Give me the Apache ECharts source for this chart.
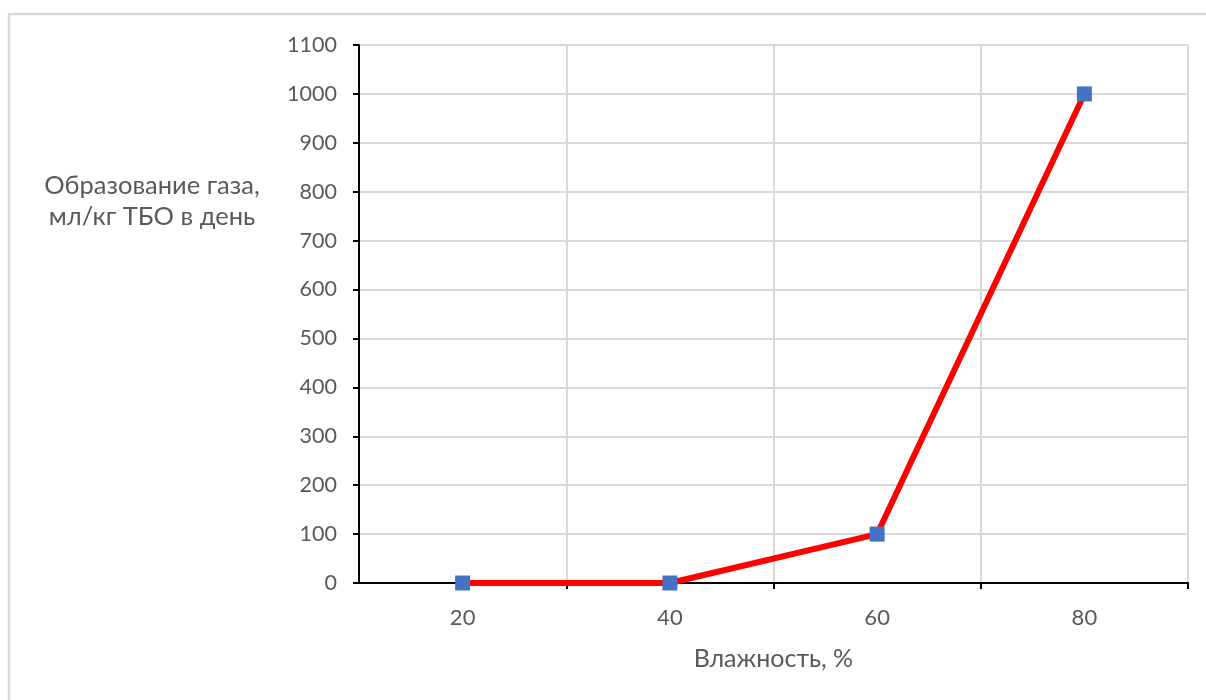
<!DOCTYPE html>
<html>
<head>
<meta charset="utf-8">
<style>
  html, body { margin: 0; padding: 0; background: #ffffff; }
  #chart { width: 1206px; height: 700px; }
</style>
<script src="https://cdn.jsdelivr.net/npm/echarts@6/dist/echarts.min.js"></script>
</head>
<body>
<div id="chart"></div>
<script>
// Moisture levels (%) and daily gas formation (ml per kg of MSW)
const humidity = ['20', '40', '60', '80'];
const gasFormation = [0, 0, 100, 1000];
const yTicks = { min: 0, max: 1100, step: 100 };

const textColor = '#595959';
const fontFamily = 'Lato, "Open Sans", sans-serif';

const chart = echarts.init(document.getElementById('chart'), null, { renderer: 'canvas' });

chart.setOption({
  backgroundColor: '#ffffff',
  animation: false,
  graphic: [{
    type: 'rect',
    shape: { x: 9, y: 14, width: 1220, height: 720 },
    style: { fill: 'none', stroke: '#d9d9d9', lineWidth: 2.5 },
    silent: true,
    z: -10
  }],
  title: {
    text: 'Образование газа,\nмл/кг ТБО в день',
    left: 147,
    top: 165,
    textAlign: 'center',
    textStyle: {
      color: textColor,
      fontFamily: fontFamily,
      fontSize: 25.5,
      fontWeight: 'normal',
      lineHeight: 31
    }
  },
  grid: {
    left: 359,
    right: 18,
    top: 45,
    bottom: 117,
    containLabel: false
  },
  xAxis: {
    type: 'category',
    data: humidity,
    boundaryGap: true,
    name: 'Влажность, %',
    nameLocation: 'middle',
    nameGap: 63,
    nameTextStyle: { color: textColor, fontFamily: fontFamily, fontSize: 25 },
    axisLine: { show: true, lineStyle: { color: '#000000', width: 2 } },
    axisTick: {
      show: true,
      length: 6,
      interval: function (index) { return index !== 0; },
      lineStyle: { color: '#000000', width: 2 }
    },
    axisLabel: { color: textColor, fontFamily: fontFamily, fontSize: 22, margin: 24 },
    splitLine: { show: true, lineStyle: { color: '#d9d9d9', width: 2 } }
  },
  yAxis: {
    type: 'value',
    min: yTicks.min,
    max: yTicks.max,
    interval: yTicks.step,
    axisLine: { show: true, lineStyle: { color: '#000000', width: 2 } },
    axisTick: { show: true, length: 6, lineStyle: { color: '#000000', width: 2 } },
    axisLabel: {
      color: textColor,
      fontFamily: fontFamily,
      fontSize: 21.5,
      margin: 22,
      formatter: function (v) { return String(v); }
    },
    splitLine: { show: true, lineStyle: { color: '#d9d9d9', width: 2 } }
  },
  series: [{
    type: 'line',
    data: gasFormation,
    symbol: 'rect',
    symbolSize: 15,
    itemStyle: { color: '#4472C4' },
    lineStyle: { color: '#ff0000', width: 6 },
    z: 5
  }]
});
</script>
</body>
</html>
